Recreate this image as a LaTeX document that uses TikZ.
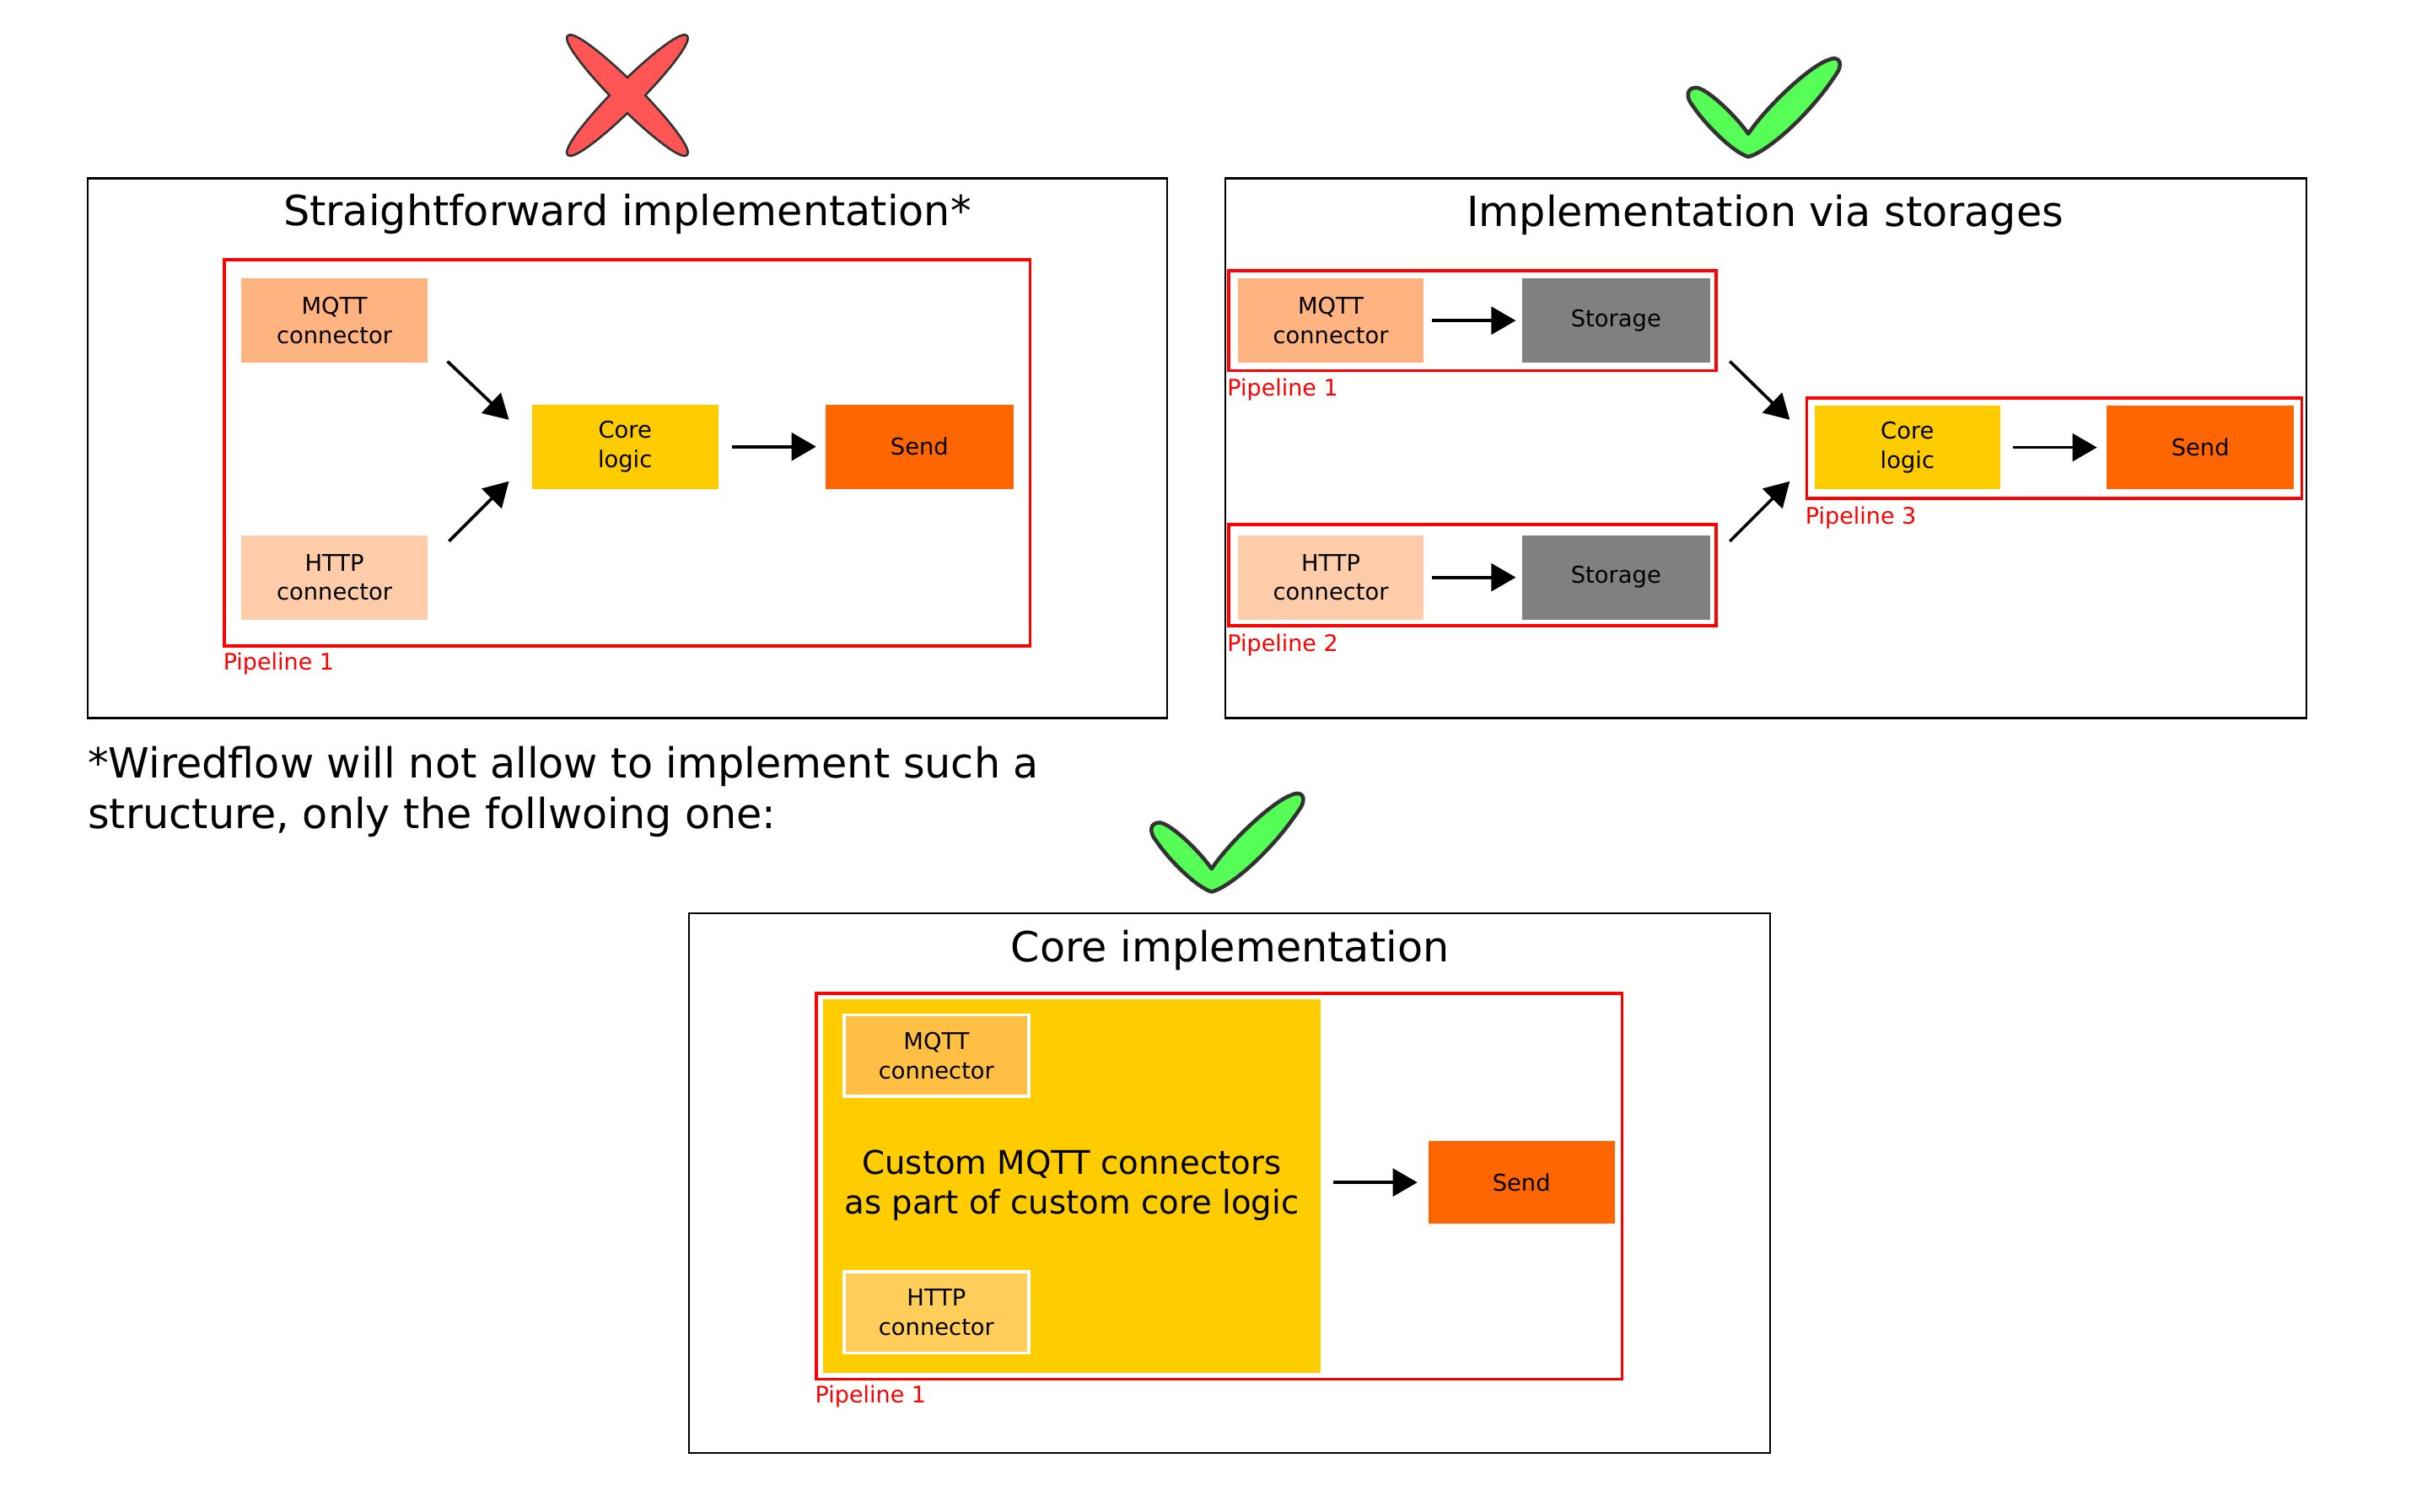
\documentclass[tikz,border=0pt]{standalone}
\usepackage{fontspec}
\setmainfont{DejaVu Sans}
\usetikzlibrary{arrows.meta,calc}
\definecolor{mqttc}{HTML}{FFB380}
\definecolor{httpc}{HTML}{FFCCAA}
\definecolor{corec}{HTML}{FFCC00}
\definecolor{sendc}{HTML}{FF6600}
\definecolor{storc}{HTML}{808080}
\definecolor{imqtt}{HTML}{FFBF45}
\definecolor{ihttp}{HTML}{FFCD5A}
\definecolor{outl}{HTML}{333333}
\definecolor{xred}{HTML}{FF5555}
\definecolor{vgreen}{HTML}{55FF55}
\tikzset{
 frame/.style={draw=black, line width=1.2pt, rectangle, inner sep=0pt},
 pipe/.style={draw=red, line width=2pt, rectangle, inner sep=0pt},
 blk/.style={rectangle, inner sep=0pt, minimum width=121pt, minimum height=55pt, align=center, font=\fontsize{15}{19}\selectfont},
 ttl/.style={font=\fontsize{27}{32}\selectfont, inner sep=0pt},
 plabel/.style={text=red, font=\fontsize{14.8}{17}\selectfont, anchor=west, inner sep=0pt},
 flow/.style={-{Triangle[length=16pt,width=18pt]}, line width=2pt},
 chk/.pic={
   \draw[line width=2.5pt, draw=outl, fill=vgreen, line join=round]
     (0,0) .. controls (-10,-14) and (-28,-30) .. (-34,-30)
     .. controls (-40,-30) and (-41,-24) .. (-36,-18)
     .. controls (-28,-6) and (-10,12) .. (0,15)
     .. controls (12,12) and (40,-12) .. (58,-40)
     .. controls (62,-47) and (58,-51) .. (52,-48)
     .. controls (40,-44) and (12,-18) .. (0,0) -- cycle;
 },
 xmk/.pic={
   \draw[line width=3pt, draw=outl, rotate=45] (0,0) ellipse [x radius=54pt, y radius=7.5pt];
   \draw[line width=3pt, draw=outl, rotate=-45] (0,0) ellipse [x radius=54pt, y radius=7.5pt];
   \fill[xred, rotate=45] (0,0) ellipse [x radius=54pt, y radius=7.5pt];
   \fill[xred, rotate=-45] (0,0) ellipse [x radius=54pt, y radius=7.5pt];
 },
}
\begin{document}
\begin{tikzpicture}[x={(1pt,0)}, y={(0,-1pt)}]
\path[use as bounding box, fill=white] (0,0) rectangle (1568,983);

% icons
\pic at (408,62) {xmk};
\pic at (1137,87) {chk};
\pic at (788,565) {chk};

% ---------- left panel ----------
\node[frame, minimum width=702pt, minimum height=351pt] (lf) at (408,291.5) {};
\node[ttl] (lt) at (408,139) {Straightforward implementation*};
\node[pipe, minimum width=524pt, minimum height=251pt] (lp) at (408,294.5) {};
\node[plabel] (lpl) at (145,431.5) {Pipeline 1};
\node[blk, fill=mqttc] (lm) at (217.5,208.5) {MQTT\\connector};
\node[blk, fill=httpc] (lh) at (217.5,375.5) {HTTP\\connector};
\node[blk, fill=corec] (lc) at (406.5,290.5) {Core\\logic};
\node[blk, fill=sendc, minimum width=122pt] (ls) at (598,290.5) {Send};
\coordinate (la1) at (291,235);
\coordinate (la2) at (331,273);
\coordinate (lb1) at (292,352);
\coordinate (lb2) at (331,313);
\draw[flow] (la1) -- (la2);
\draw[flow] (lb1) -- (lb2);
\draw[flow, shorten <=9pt, shorten >=6pt] (lc.east) -- (ls.west);

% ---------- right panel ----------
\node[frame, minimum width=703pt, minimum height=351pt] (rf) at (1148.5,291.5) {};
\node[ttl] (rt) at (1148,140) {Implementation via storages};
\node[pipe, minimum width=317pt, minimum height=65pt] (rp1) at (957.5,208.5) {};
\node[pipe, minimum width=317pt, minimum height=66pt] (rp2) at (957.5,374) {};
\node[pipe, minimum width=322pt, minimum height=65pt] (rp3) at (1336,291.5) {};
\node[plabel] (rl1) at (798,253.5) {Pipeline 1};
\node[plabel] (rl2) at (798,419.5) {Pipeline 2};
\node[plabel] (rl3) at (1174,336.5) {Pipeline 3};
\node[blk, fill=mqttc] (rm) at (865.5,208.5) {MQTT\\connector};
\node[blk, fill=storc, minimum width=122pt] (rs1) at (1051,208.5) {Storage};
\node[blk, fill=httpc] (rh) at (865.5,375.5) {HTTP\\connector};
\node[blk, fill=storc, minimum width=122pt] (rs2) at (1051,375.5) {Storage};
\node[blk, fill=corec, minimum height=54pt] (rc) at (1240.5,291) {Core\\logic};
\node[blk, fill=sendc, minimum width=122pt, minimum height=54pt] (rsd) at (1431,291) {Send};
\draw[flow, shorten <=5pt, shorten >=4pt] (rm.east) -- (rs1.west);
\draw[flow, shorten <=5pt, shorten >=4pt] (rh.east) -- (rs2.west);
\draw[flow, shorten <=8pt, shorten >=6pt] (rc.east) -- (rsd.west);
\coordinate (ra1) at (1125,235);
\coordinate (ra2) at (1164,273);
\coordinate (rb1) at (1125,352);
\coordinate (rb2) at (1164,313);
\draw[flow] (ra1) -- (ra2);
\draw[flow] (rb1) -- (rb2);

% ---------- footnote ----------
\node[anchor=north west, inner sep=0pt, align=left, font=\fontsize{27}{33}\selectfont] (fn) at (57,485)
  {*Wiredflow will not allow to implement such a\\structure, only the follwoing one:};

% ---------- bottom panel ----------
\node[frame, minimum width=703pt, minimum height=351pt] (bf) at (799.5,769.5) {};
\node[ttl] (bt) at (800,618) {Core implementation};
\node[pipe, minimum width=524pt, minimum height=251pt] (bp) at (793,771.5) {};
\node[plabel] (bl) at (530,908.5) {Pipeline 1};
\node[rectangle, inner sep=0pt, fill=corec, minimum width=324pt, minimum height=243pt] (by) at (697,771.5) {};
\node[blk, fill=imqtt, draw=white, line width=2pt, minimum width=120pt, minimum height=53pt] (bm) at (609,686.5) {MQTT\\connector};
\node[blk, fill=ihttp, draw=white, line width=2pt, minimum width=120pt, minimum height=53pt] (bh) at (609,853.5) {HTTP\\connector};
\node[align=center, inner sep=0pt, font=\fontsize{21.2}{26}\selectfont] (btx) at (697,771) {Custom MQTT connectors\\as part of custom core logic};
\node[blk, fill=sendc, minimum height=54pt] (bs) at (989.5,769) {Send};
\draw[flow, shorten <=8pt, shorten >=7pt] (by.east |- bs.west) -- (bs.west);
\end{tikzpicture}
\end{document}
